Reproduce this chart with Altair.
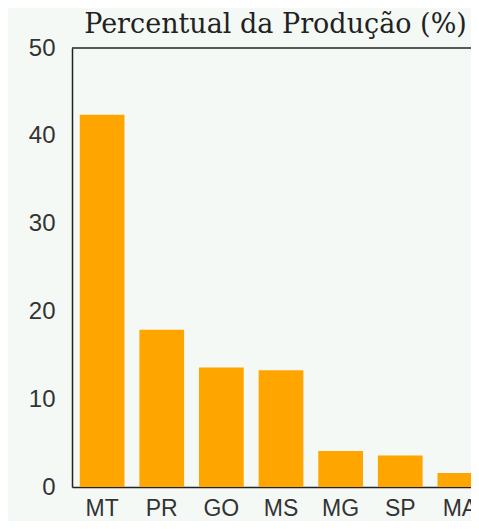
import altair as alt
import pandas as pd

estados = ["MT", "PR", "GO", "MS", "MG", "SP", "MA"]
percentual = [42.4, 17.9, 13.6, 13.3, 4.1, 3.6, 1.6]
y_ticks = [0, 10, 20, 30, 40, 50]

df = pd.DataFrame({"estado": estados, "percentual": percentual})

frame_color = "#222222"

bars = alt.Chart(df).mark_bar(color="#FFA500").encode(
    x=alt.X("estado:N", sort=estados, title=None,
            scale=alt.Scale(range=[0, 418], paddingInner=0.25, paddingOuter=0.13),
            axis=alt.Axis(labelAngle=0, labelFont="Liberation Sans", labelFontSize=23,
                          labelColor="#333333", ticks=False, domain=True,
                          domainColor=frame_color, domainWidth=1.5,
                          labelPadding=10)),
    y=alt.Y("percentual:Q", title=None,
            scale=alt.Scale(domain=[0, 50], nice=False),
            axis=alt.Axis(values=y_ticks, grid=False, ticks=False, domain=True,
                          domainColor=frame_color, domainWidth=1.5,
                          labelFont="Liberation Sans", labelFontSize=24,
                          labelColor="#333333", labelPadding=17)),
)

top_line = alt.Chart(pd.DataFrame({"v": [50]})).mark_rule(
    color=frame_color, strokeWidth=1.5
).encode(
    y=alt.Y("v:Q"),
    x=alt.value(0),
    x2=alt.value(418),
)

chart = alt.layer(bars, top_line).properties(
    width=399,
    height=439,
    title=alt.TitleParams("Percentual da Produção (%)", font="DejaVu Serif",
                          fontSize=27, fontWeight="normal", color="#222222",
                          anchor="middle", frame="group", dx=4, offset=-3),
    background="#f5f9f5",
    padding={"left": 64, "top": 40, "right": 0, "bottom": 34},
    autosize=alt.AutoSizeParams(type="none"),
).configure_view(stroke=None)

chart.save("out.html", embed_options={"renderer": "svg", "actions": False})
